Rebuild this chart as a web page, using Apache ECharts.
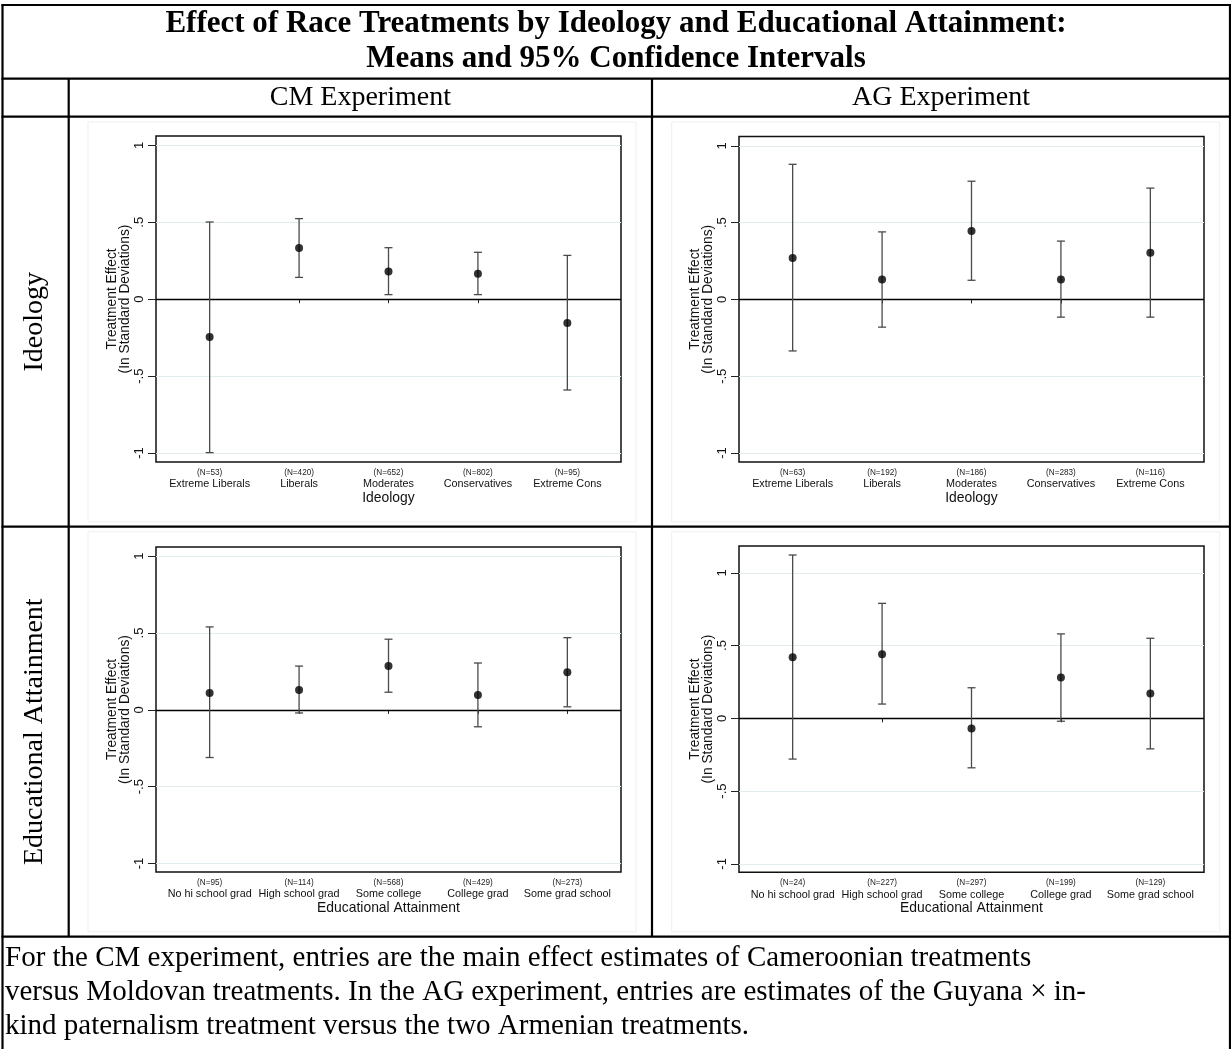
<!DOCTYPE html>
<html>
<head>
<meta charset="utf-8">
<script src="https://cdn.jsdelivr.net/npm/echarts@6/dist/echarts.min.js"></script>
<style>
html,body{margin:0;padding:0;background:#fff;}
#chart{width:1231px;height:1049px;}
</style>
</head>
<body>
<div id="chart"></div>
<script>
// ---------------- data ----------------
const ideologyCategories = ['Extreme Liberals', 'Liberals', 'Moderates', 'Conservatives', 'Extreme Cons'];
const educationCategories = ['No hi school grad', 'High school grad', 'Some college', 'College grad', 'Some grad school'];
const categoryPositions = [1, 2, 3, 4, 5];

const cmIdeoN = [53, 420, 652, 802, 95];
const cmIdeoMean = [-0.245, 0.333, 0.18, 0.165, -0.155];
const cmIdeoLow = [-0.997, 0.142, 0.03, 0.03, -0.59];
const cmIdeoHigh = [0.502, 0.524, 0.335, 0.305, 0.285];

const agIdeoN = [63, 192, 186, 283, 116];
const agIdeoMean = [0.27, 0.13, 0.445, 0.13, 0.305];
const agIdeoLow = [-0.335, -0.18, 0.125, -0.115, -0.115];
const agIdeoHigh = [0.88, 0.44, 0.77, 0.38, 0.725];

const cmEduN = [95, 114, 568, 429, 273];
const cmEduMean = [0.11, 0.13, 0.285, 0.097, 0.245];
const cmEduLow = [-0.31, -0.02, 0.115, -0.11, 0.02];
const cmEduHigh = [0.54, 0.285, 0.46, 0.305, 0.47];

const agEduN = [24, 227, 297, 199, 129];
const agEduMean = [0.419, 0.44, -0.07, 0.28, 0.17];
const agEduLow = [-0.28, 0.098, -0.34, -0.02, -0.21];
const agEduHigh = [1.122, 0.79, 0.21, 0.58, 0.55];

const yTickValues = [-1, -0.5, 0, 0.5, 1];
const yTickLabels = ['-1', '-.5', '0', '.5', '1'];
const gridLineValues = [-1, -0.5, 0.5, 1];

const titleLines = ['Effect of Race Treatments by Ideology and Educational Attainment:', 'Means and 95% Confidence Intervals'];
const columnHeaders = ['CM Experiment', 'AG Experiment'];
const rowHeaders = ['Ideology', 'Educational Attainment'];
const footnoteLines = [
  'For the CM experiment, entries are the main effect estimates of Cameroonian treatments',
  'versus Moldovan treatments. In the AG experiment, entries are estimates of the Guyana \u00d7 in-',
  'kind paternalism treatment versus the two Armenian treatments.'
];

// ---------------- layout ----------------
const SANS = '"Liberation Sans", Arial, Helvetica, sans-serif';
const SERIF = '"Liberation Serif", "Times New Roman", serif';

const panels = [
  {grid: {left: 156, top: 136, width: 465, height: 326}, cats: ideologyCategories, n: cmIdeoN, mean: cmIdeoMean, lo: cmIdeoLow, hi: cmIdeoHigh, xname: 'Ideology', ymin: -1.058, ymax: 1.061},
  {grid: {left: 739, top: 136.5, width: 465, height: 325.5}, cats: ideologyCategories, n: agIdeoN, mean: agIdeoMean, lo: agIdeoLow, hi: agIdeoHigh, xname: 'Ideology', ymin: -1.058, ymax: 1.061},
  {grid: {left: 156, top: 547, width: 465, height: 325}, cats: educationCategories, n: cmEduN, mean: cmEduMean, lo: cmEduLow, hi: cmEduHigh, xname: 'Educational Attainment', ymin: -1.055, ymax: 1.06},
  {grid: {left: 739, top: 546, width: 465, height: 326.3}, cats: educationCategories, n: agEduN, mean: agEduMean, lo: agEduLow, hi: agEduHigh, xname: 'Educational Attainment', ymin: -1.058, ymax: 1.184}
];

const grids = [], xAxes = [], yAxes = [], series = [];

function errRender(params, api) {
  const x = api.value(0), lo = api.value(1), hi = api.value(2);
  const a = api.coord([x, lo]), b = api.coord([x, hi]);
  const hw = 4;
  const st = {stroke: '#4a4a4a', lineWidth: 1.3};
  return {type: 'group', children: [
    {type: 'line', shape: {x1: a[0], y1: a[1], x2: b[0], y2: b[1]}, style: st},
    {type: 'line', shape: {x1: a[0] - hw, y1: a[1], x2: a[0] + hw, y2: a[1]}, style: st},
    {type: 'line', shape: {x1: b[0] - hw, y1: b[1], x2: b[0] + hw, y2: b[1]}, style: st}
  ]};
}

panels.forEach((p, i) => {
  grids.push(Object.assign({show: true, borderColor: '#111', borderWidth: 1.5, backgroundColor: '#fff'}, p.grid));
  xAxes.push({
    type: 'value', gridIndex: i, min: 0.4, max: 5.6,
    axisLine: {show: false}, splitLine: {show: false},
    axisTick: {show: true, customValues: categoryPositions, length: 4, lineStyle: {color: '#222', width: 1}},
    axisLabel: {
      show: true, customValues: categoryPositions, margin: 5,
      formatter: v => '{n|(N=' + p.n[Math.round(v) - 1] + ')}\n{c|' + p.cats[Math.round(v) - 1] + '}',
      rich: {
        n: {fontFamily: SANS, fontSize: 8.2, lineHeight: 11, color: '#222'},
        c: {fontFamily: SANS, fontSize: 10.8, lineHeight: 13, color: '#111'}
      }
    },
    name: p.xname, nameLocation: 'middle', nameGap: 28,
    nameTextStyle: {fontFamily: SANS, fontSize: 13.9, color: '#111'}
  });
  yAxes.push({
    type: 'value', gridIndex: i, min: p.ymin, max: p.ymax,
    axisLine: {show: false}, splitLine: {show: false},
    axisTick: {show: true, customValues: yTickValues, length: 8, lineStyle: {color: '#222', width: 1}},
    axisLabel: {
      show: true, customValues: yTickValues, rotate: 90, margin: 10,
      fontFamily: SANS, fontSize: 13, color: '#111',
      formatter: v => yTickLabels[yTickValues.indexOf(Math.round(v * 2) / 2)]
    },
    name: 'Treatment Effect\n(In Standard Deviations)', nameLocation: 'middle', nameRotate: 90, nameGap: 24,
    nameTextStyle: {fontFamily: SANS, fontSize: 13.8, lineHeight: 13.3, color: '#111'}
  });
  series.push({
    type: 'custom', xAxisIndex: i, yAxisIndex: i, renderItem: errRender,
    encode: {x: 0, y: [1, 2]}, silent: true, z: 3,
    data: categoryPositions.map((c, k) => [c, p.lo[k], p.hi[k]]),
    markLine: {
      silent: true, symbol: ['none', 'none'], label: {show: false}, z: 1,
      data: gridLineValues.map(v => ({yAxis: v, lineStyle: {color: '#e3ecee', width: 1.2, type: 'solid'}}))
        .concat([{yAxis: 0, lineStyle: {color: '#000', width: 1.3, type: 'solid'}}])
    }
  });
  series.push({
    type: 'scatter', xAxisIndex: i, yAxisIndex: i, symbol: 'circle', symbolSize: 8, z: 4,
    itemStyle: {color: '#000'}, silent: true,
    data: categoryPositions.map((c, k) => [c, p.mean[k]])
  });
});

// ---------------- table graphics ----------------
const LW = 2.2;
const L = 2.5, R = 1230, TOP = 5, H1 = 78.7, H2 = 116.7, MID = 526.7, BOT = 936.7, C1 = 68.7, C2 = 652;
function hline(y, x1, x2) { return {type: 'line', shape: {x1: x1, y1: y, x2: x2, y2: y}, style: {stroke: '#000', lineWidth: LW}, z: 10}; }
function vline(x, y1, y2) { return {type: 'line', shape: {x1: x, y1: y1, x2: x, y2: y2}, style: {stroke: '#000', lineWidth: LW}, z: 10}; }
function faintRect(x, y, w, h) { return {type: 'rect', shape: {x: x, y: y, width: w, height: h}, style: {fill: null, stroke: '#efefef', lineWidth: 1}, z: -1}; }
function txt(x, y, s, font, opts) {
  return Object.assign({type: 'text', x: x, y: y, z: 10,
    style: {text: s, font: font, fill: '#000', align: (opts && opts.align) || 'center', verticalAlign: 'middle'}}, (opts && opts.extra) || {});
}

const graphics = [
  faintRect(88, 122, 548, 399.7), faintRect(671.7, 122, 548, 399.7),
  faintRect(88, 531.7, 548, 400), faintRect(671.7, 531.7, 548, 400),
  hline(TOP, L - 1, R + 1), hline(H1, L - 1, R + 1), hline(H2, L - 1, R + 1), hline(MID, L - 1, R + 1), hline(BOT, L - 1, R + 1),
  vline(L, TOP - 1, 1049), vline(R, TOP - 1, 1049), vline(C1, H1, BOT), vline(C2, H1, BOT),
  txt(616, 24, titleLines[0], 'bold 31px ' + SERIF),
  txt(616, 58.8, titleLines[1], 'bold 31px ' + SERIF),
  txt((C1 + C2) / 2, 98, columnHeaders[0], '28px ' + SERIF),
  txt((C2 + R) / 2, 98, columnHeaders[1], '28px ' + SERIF),
  txt(35, (H2 + MID) / 2, rowHeaders[0], '28px ' + SERIF, {extra: {rotation: Math.PI / 2}}),
  txt(35, (MID + BOT) / 2, rowHeaders[1], '28px ' + SERIF, {extra: {rotation: Math.PI / 2}})
];
footnoteLines.forEach((t, k) => {
  graphics.push(txt(5, 958.5 + 34 * k, t, '29px ' + SERIF, {align: 'left'}));
});

const chart = echarts.init(document.getElementById('chart'), null, {renderer: 'canvas'});
chart.setOption({
  animation: false,
  backgroundColor: '#fff',
  grid: grids, xAxis: xAxes, yAxis: yAxes, series: series,
  graphic: graphics
});
</script>
</body>
</html>
